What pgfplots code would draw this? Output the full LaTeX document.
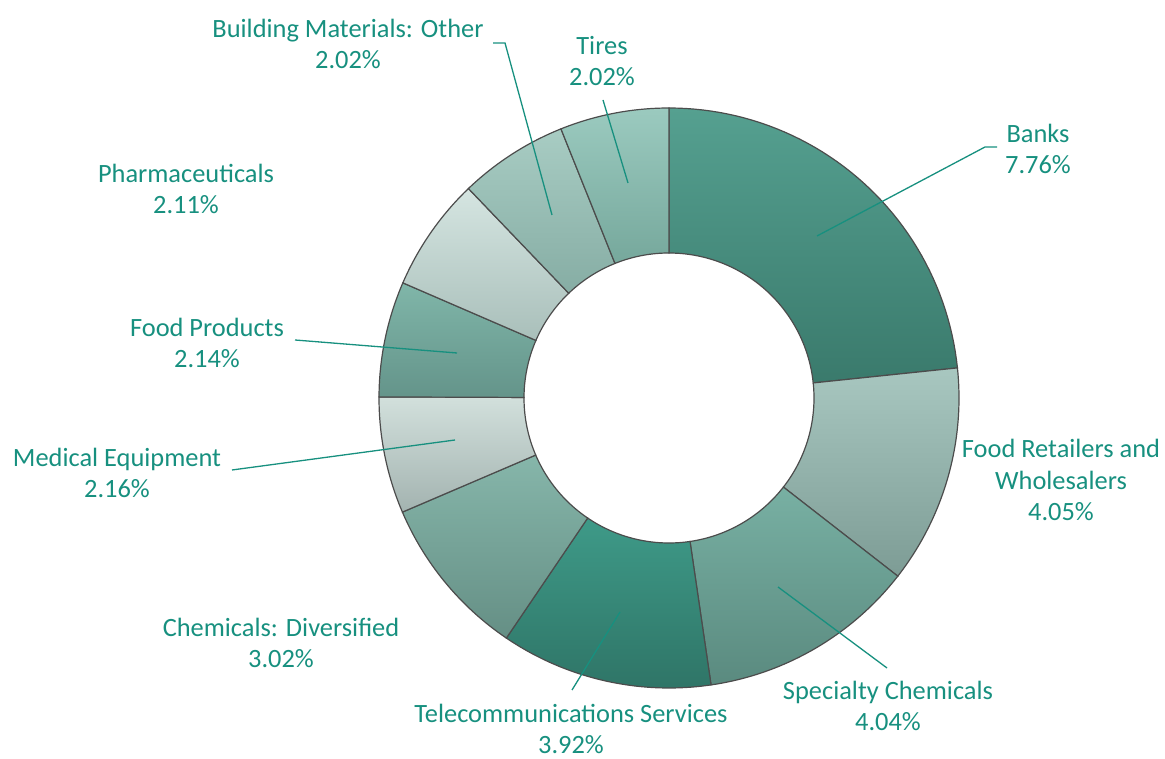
\documentclass[border=0pt]{standalone}
\usepackage{pgfplots}
\pgfplotsset{compat=1.18}
\usepackage{fontspec}
\setmainfont{Carlito}
\definecolor{lbl}{HTML}{17907F}
% slice colours (top, bottom)
\definecolor{t1}{HTML}{55A090}\definecolor{b1}{HTML}{3A7A6C}
\definecolor{t2}{HTML}{A8C7C0}\definecolor{b2}{HTML}{7D9C95}
\definecolor{t3}{HTML}{78B0A3}\definecolor{b3}{HTML}{5A8A7F}
\definecolor{t4}{HTML}{3E9A88}\definecolor{b4}{HTML}{2F7567}
\definecolor{t5}{HTML}{86B6AA}\definecolor{b5}{HTML}{658F85}
\definecolor{t6}{HTML}{D2E0DC}\definecolor{b6}{HTML}{A3B3B0}
\definecolor{t7}{HTML}{80B6A9}\definecolor{b7}{HTML}{64948A}
\definecolor{t8}{HTML}{D5E5E1}\definecolor{b8}{HTML}{A9BFBA}
\definecolor{t9}{HTML}{A8CCC3}\definecolor{b9}{HTML}{86ADA4}
\definecolor{t10}{HTML}{9BCABF}\definecolor{b10}{HTML}{76A89C}
% data (percent of portfolio)
\def\vA{7.76}  % Banks
\def\vB{4.05}  % Food Retailers and Wholesalers
\def\vC{4.04}  % Specialty Chemicals
\def\vD{3.92}  % Telecommunications Services
\def\vE{3.02}  % Chemicals: Diversified
\def\vF{2.16}  % Medical Equipment
\def\vG{2.14}  % Food Products
\def\vH{2.11}  % Pharmaceuticals
\def\vI{2.02}  % Building Materials: Other
\def\vJ{2.02}  % Tires
\pgfmathsetmacro\Tot{\vA+\vB+\vC+\vD+\vE+\vF+\vG+\vH+\vI+\vJ}
\pgfmathsetmacro\aA{90}
\pgfmathsetmacro\aB{\aA-360*\vA/\Tot}
\pgfmathsetmacro\aC{\aB-360*\vB/\Tot}
\pgfmathsetmacro\aD{\aC-360*\vC/\Tot}
\pgfmathsetmacro\aE{\aD-360*\vD/\Tot}
\pgfmathsetmacro\aF{\aE-360*\vE/\Tot}
\pgfmathsetmacro\aG{\aF-360*\vF/\Tot}
\pgfmathsetmacro\aH{\aG-360*\vG/\Tot}
\pgfmathsetmacro\aI{\aH-360*\vH/\Tot}
\pgfmathsetmacro\aJ{\aI-360*\vI/\Tot}
\pgfmathsetmacro\aK{\aJ-360*\vJ/\Tot}
\def\cx{669}\def\cy{-398}\def\Ro{290}\def\Ri{145}
% one ring sector: #1 start angle, #2 end angle, #3 top colour, #4 bottom colour
\newcommand\sector[4]{%
  \addplot[draw=black!70, line width=1.2bp, top color=#3, bottom color=#4,
    domain=0:3, samples=151, variable=\t]
  ({\cx+(\Ro-(\Ro-\Ri)*min(max(\t-1,0),1))*cos(#1+(#2-#1)*(min(\t,1)-max(\t-2,0)))},
   {\cy+(\Ro-(\Ro-\Ri)*min(max(\t-1,0),1))*sin(#1+(#2-#1)*(min(\t,1)-max(\t-2,0)))}) -- cycle;}
\begin{document}
\begin{tikzpicture}
\begin{axis}[scale only axis, width=1165bp, height=759bp,
  xmin=0, xmax=1165, ymin=-759, ymax=0, axis lines=none, clip=false]
\path (rel axis cs:0,0) rectangle (rel axis cs:1,1);
\sector{\aA}{\aB}{t1}{b1}
\sector{\aB}{\aC}{t2}{b2}
\sector{\aC}{\aD}{t3}{b3}
\sector{\aD}{\aE}{t4}{b4}
\sector{\aE}{\aF}{t5}{b5}
\sector{\aF}{\aG}{t6}{b6}
\sector{\aG}{\aH}{t7}{b7}
\sector{\aH}{\aI}{t8}{b8}
\sector{\aI}{\aJ}{t9}{b9}
\sector{\aJ}{\aK}{t10}{b10}
% leader lines
\addplot[lbl, line width=1.3bp] coordinates {(817,-236) (985,-147) (997,-147)};
\addplot[lbl, line width=1.3bp] coordinates {(628,-183) (603,-100)};
\addplot[lbl, line width=1.3bp] coordinates {(552,-215) (505,-43) (493,-43)};
\addplot[lbl, line width=1.3bp] coordinates {(457,-353) (295,-340)};
\addplot[lbl, line width=1.3bp] coordinates {(455,-440) (232,-470)};
\addplot[lbl, line width=1.3bp] coordinates {(620,-612) (572,-690)};
\addplot[lbl, line width=1.3bp] coordinates {(778,-587) (887,-668)};
% labels
\tikzset{lab/.style={text=lbl, align=center, font=\fontsize{26.5}{32}\selectfont, inner sep=0pt}}
\node[lab] at (axis cs:1038,-149) {Banks\\7.76\%};
\node[lab] at (axis cs:1061,-480) {Food Retailers and\\Wholesalers\\4.05\%};
\node[lab] at (axis cs:888,-706) {Specialty Chemicals\\4.04\%};
\node[lab] at (axis cs:571,-729) {Telecommunications Services\\3.92\%};
\node[lab] at (axis cs:281,-643) {Chemicals: Diversified\\3.02\%};
\node[lab] at (axis cs:117,-473) {Medical Equipment\\2.16\%};
\node[lab] at (axis cs:207,-343) {Food Products\\2.14\%};
\node[lab] at (axis cs:186,-189) {Pharmaceuticals\\2.11\%};
\node[lab] at (axis cs:348,-44) {Building Materials: Other\\2.02\%};
\node[lab] at (axis cs:602,-61) {Tires\\2.02\%};
\end{axis}
\end{tikzpicture}
\end{document}
